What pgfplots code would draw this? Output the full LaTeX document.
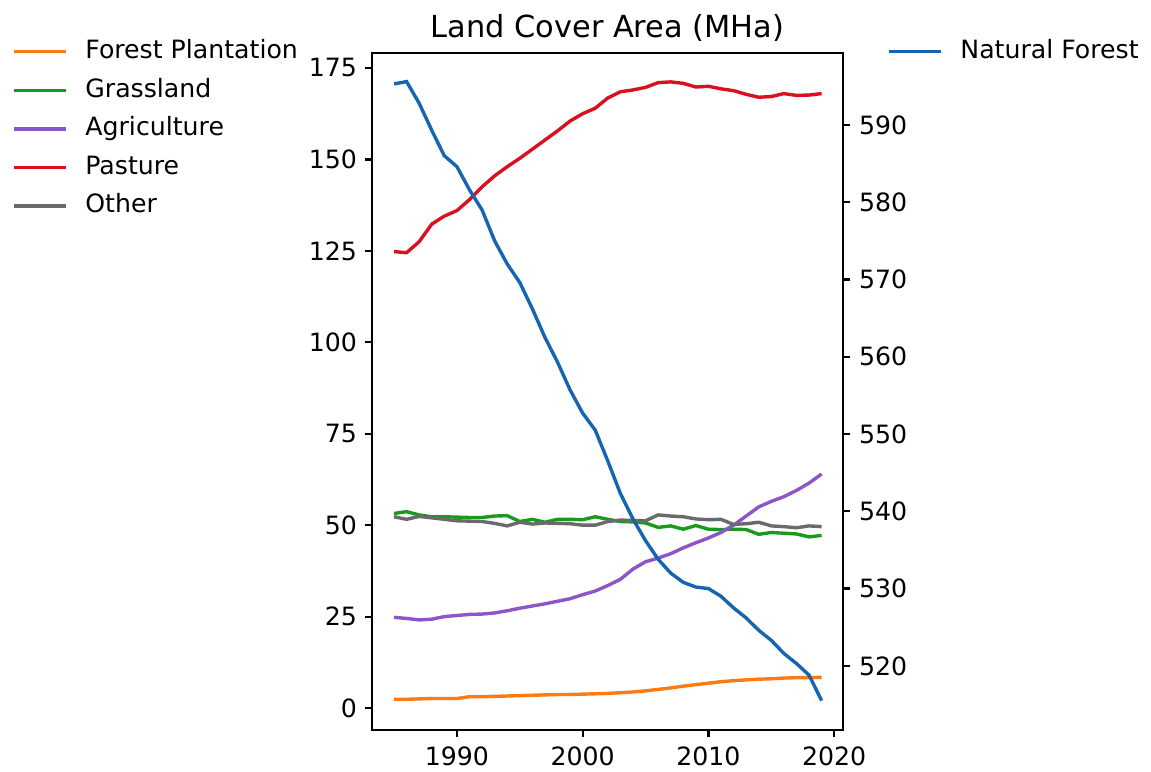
\documentclass[border=0pt]{standalone}
\usepackage{pgfplots}
\pgfplotsset{compat=1.18}
\usepackage{pgfplotstable}
\usepackage{fontspec}
\setmainfont{DejaVu Sans}

\definecolor{cblue}{HTML}{1565B0}
\definecolor{corange}{HTML}{FF7A10}
\definecolor{cgreen}{HTML}{1A9A1A}
\definecolor{cpurple}{HTML}{8E55C8}
\definecolor{cred}{HTML}{D81020}
\definecolor{cgray}{HTML}{6A6A6A}

\pgfplotstableread{
year plant grass agri past other
1985 2.4 53.2 24.8 124.8 52.3
1986 2.4 53.7 24.5 124.5 51.6
1987 2.5 52.8 24.1 127.5 52.4
1988 2.6 52.3 24.3 132.3 52.0
1989 2.6 52.3 25.0 134.5 51.6
1990 2.6 52.2 25.3 136.0 51.2
1991 3.1 52.1 25.6 139.0 51.1
1992 3.1 52.1 25.7 142.5 51.0
1993 3.2 52.5 26.0 145.5 50.5
1994 3.3 52.6 26.6 148.0 49.8
1995 3.4 51.0 27.3 150.3 50.8
1996 3.5 51.6 27.9 152.8 50.3
1997 3.6 50.8 28.5 155.3 50.6
1998 3.7 51.6 29.2 157.8 50.5
1999 3.7 51.6 29.9 160.5 50.4
2000 3.8 51.5 31.0 162.5 50.0
2001 3.9 52.3 32.0 164.0 50.0
2002 4.0 51.6 33.5 166.8 51.0
2003 4.2 51.0 35.2 168.5 51.4
2004 4.4 50.9 38.0 169.0 51.3
2005 4.7 50.6 40.0 169.7 51.2
2006 5.1 49.4 41.0 171.0 52.8
2007 5.5 49.8 42.2 171.2 52.5
2008 6.0 48.9 43.8 170.8 52.3
2009 6.4 49.9 45.2 169.8 51.7
2010 6.8 48.9 46.5 170.0 51.5
2011 7.2 48.8 48.0 169.3 51.6
2012 7.5 48.9 50.0 168.8 50.2
2013 7.7 48.8 52.5 167.8 50.4
2014 7.9 47.5 55.0 167.0 50.8
2015 8.0 48.0 56.5 167.2 49.8
2016 8.2 47.8 57.8 168.0 49.6
2017 8.3 47.6 59.5 167.5 49.3
2018 8.3 46.8 61.5 167.6 49.8
2019 8.4 47.2 64.0 168.0 49.6
}\lefttable

\pgfplotstableread{
year natural
1985 595.3
1986 595.6
1987 592.8
1988 589.3
1989 586.0
1990 584.6
1991 581.6
1992 579.0
1993 575.0
1994 572.0
1995 569.6
1996 566.2
1997 562.5
1998 559.3
1999 555.7
2000 552.7
2001 550.5
2002 546.5
2003 542.3
2004 539.0
2005 536.2
2006 533.8
2007 532.0
2008 530.8
2009 530.2
2010 530.0
2011 529.0
2012 527.5
2013 526.2
2014 524.6
2015 523.3
2016 521.6
2017 520.3
2018 518.8
2019 515.5
}\righttable

\pgfplotsset{
  common/.style={
    scale only axis,
    width=235.5pt, height=338.5pt,
    at={(0pt,0pt)}, anchor=south west,
    xmin=1983.25, xmax=2020.7,
    axis line style={line width=1.1pt},
    major tick style={line width=1.1pt, black},
    major tick length=3.5pt,
    tick align=outside,
    /pgf/number format/assume math mode=true,
    /pgf/number format/1000 sep={},
    legend cell align=left,
    legend image code/.code={\draw[#1] (0pt,0pt) -- (26pt,0pt);},
  },
  mylegend/.style={
    draw=none, fill=none, inner sep=0pt, outer sep=0pt,
    row sep=7.1pt, column sep=9pt,
    nodes={inner sep=0pt, text height=9.5pt, text depth=2.7pt},
  },
}

\begin{document}
\begin{tikzpicture}[font=\fontsize{12.6pt}{15pt}\selectfont]
\useasboundingbox (-186pt,-20.5pt) rectangle (389.5pt,365pt);
\begin{axis}[
  common,
  xtick={1990,2000,2010,2020},
  xtick pos=bottom,
  ymin=-6.0, ymax=179.1,
  ytick={0,25,50,75,100,125,150,175},
  ytick pos=left,
  xticklabel style={yshift=-1.5pt},
  yticklabel style={xshift=-0.5pt},
  title={Land Cover Area (MHa)},
  title style={at={(0.5,1)}, anchor=center, yshift=6.3pt, font=\fontsize{15.2pt}{18pt}\selectfont},
  legend style={mylegend, at={(-0.7643,1.0199)}, anchor=north west},
]
\addplot[corange, line width=1.7pt] table[x=year, y=plant] {\lefttable};
\addlegendentry{Forest Plantation}
\addplot[cgreen, line width=1.7pt] table[x=year, y=grass] {\lefttable};
\addlegendentry{Grassland}
\addplot[cpurple, line width=1.7pt] table[x=year, y=agri] {\lefttable};
\addlegendentry{Agriculture}
\addplot[cred, line width=1.7pt] table[x=year, y=past] {\lefttable};
\addlegendentry{Pasture}
\addplot[cgray, line width=1.7pt] table[x=year, y=other] {\lefttable};
\addlegendentry{Other}
\end{axis}
\begin{axis}[
  common,
  axis x line=none,
  axis y line*=right,
  ymin=511.7, ymax=599.3,
  ytick={520,530,540,550,560,570,580,590},
  yticklabel style={xshift=1pt},
  legend style={mylegend, at={(1.0934,1.0199)}, anchor=north west},
]
\addplot[cblue, line width=1.7pt] table[x=year, y=natural] {\righttable};
\addlegendentry{Natural Forest}
\end{axis}
\end{tikzpicture}
\end{document}
